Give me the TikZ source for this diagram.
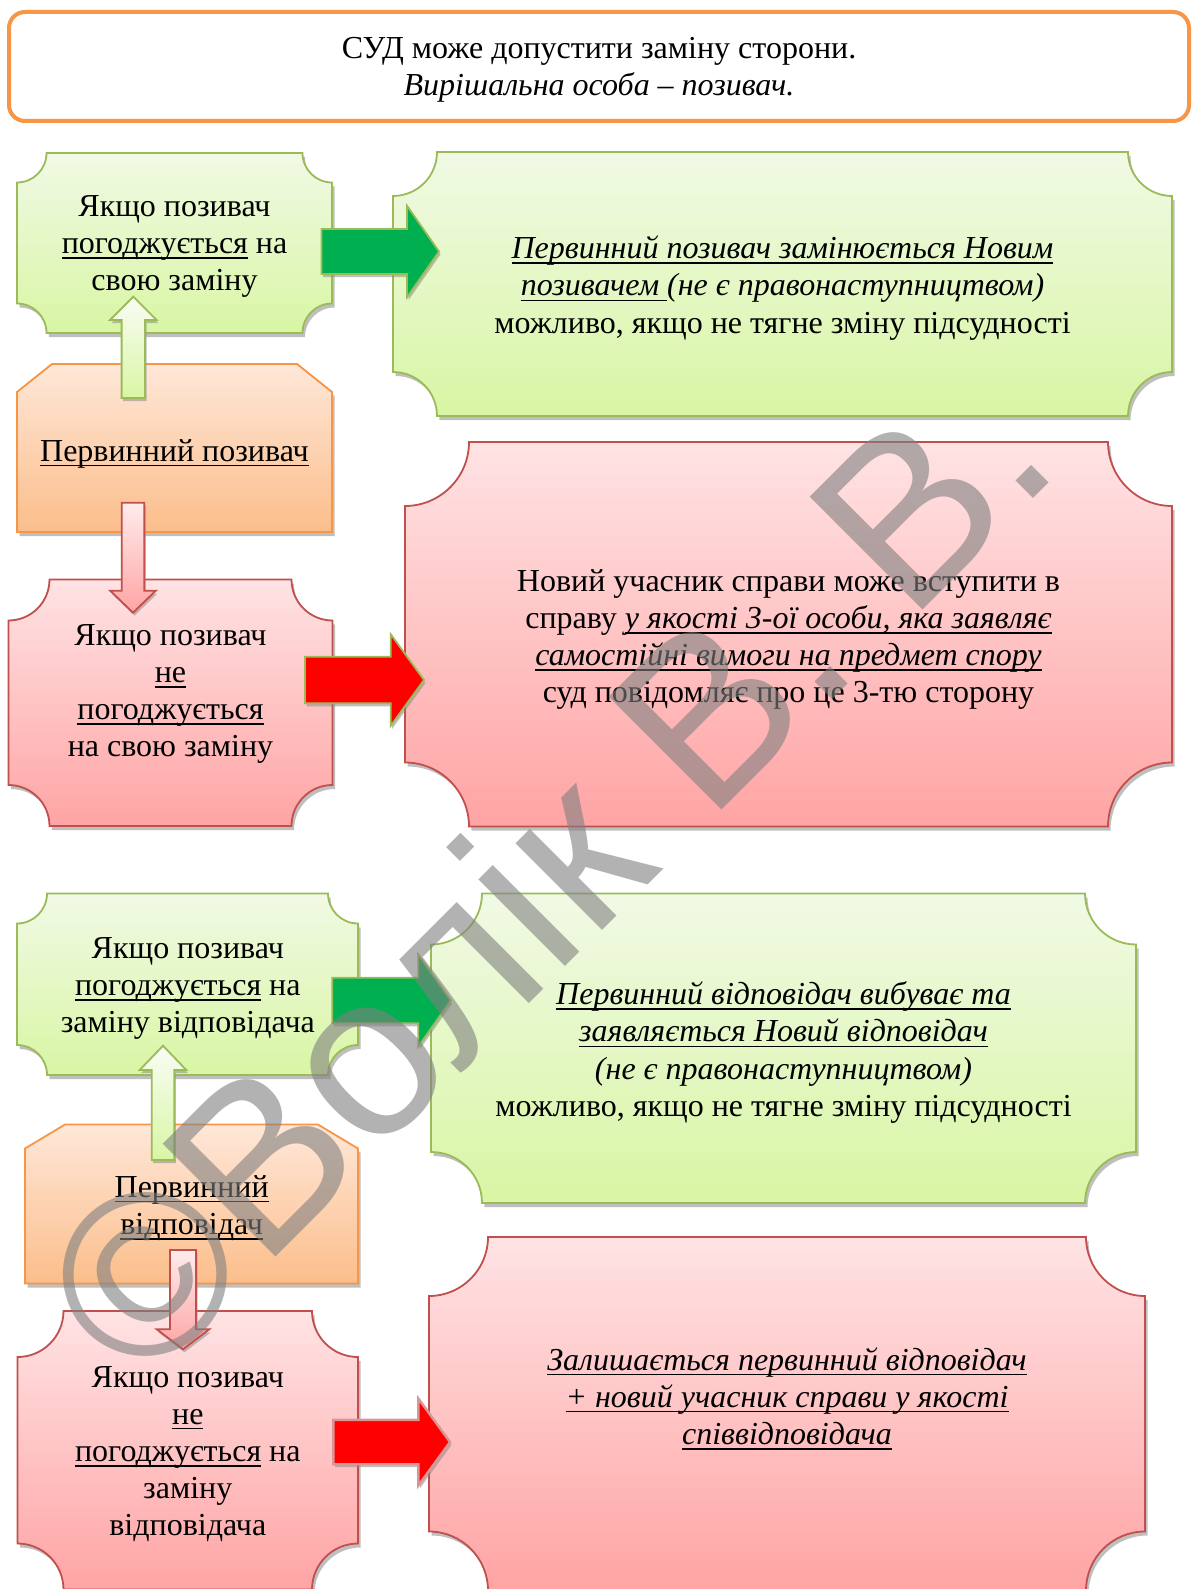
\documentclass[tikz,border=0pt]{standalone}
\usepackage{fontspec}
\setmainfont{Liberation Serif}
\newfontfamily\wmfont{Liberation Sans}

% underline at a fixed depth below the baseline
\newcommand{\undl}[1]{\setbox0\hbox{#1}\rlap{\rule[-2.6pt]{\wd0}{0.75pt}}\box0\relax}

\definecolor{grnedge}{HTML}{9BBB59}
\definecolor{grntop}{HTML}{F1F9E5}
\definecolor{grnbot}{HTML}{D8F6A4}
\definecolor{rededge}{HTML}{C0504D}
\definecolor{redtop}{HTML}{FFE3E4}
\definecolor{redbot}{HTML}{FFA4A4}
\definecolor{orgedge}{HTML}{F79646}
\definecolor{orgtop}{HTML}{FFE7D8}
\definecolor{orgbot}{HTML}{FBBE8B}
\definecolor{arrgreen}{HTML}{00B050}
\definecolor{arrred}{HTML}{FF0000}
\definecolor{pinkedge}{HTML}{D99694}
\definecolor{shadowgray}{HTML}{8C8C8C}
\definecolor{wmgray}{HTML}{808080}

% plaque: rectangle with concave quarter-circle corners
\newcommand{\plaquebox}[6]{%
  \path[boxshadow,shift={(2.5,4)}]
    ({#2},{#3+#6}) arc[start angle=90,end angle=0,radius=#6]
    -- ({#4-#6},{#3}) arc[start angle=180,end angle=90,radius=#6]
    -- ({#4},{#5-#6}) arc[start angle=270,end angle=180,radius=#6]
    -- ({#2+#6},{#5}) arc[start angle=0,end angle=-90,radius=#6] -- cycle;
  \path[#1]
    ({#2},{#3+#6}) arc[start angle=90,end angle=0,radius=#6]
    -- ({#4-#6},{#3}) arc[start angle=180,end angle=90,radius=#6]
    -- ({#4},{#5-#6}) arc[start angle=270,end angle=180,radius=#6]
    -- ({#2+#6},{#5}) arc[start angle=0,end angle=-90,radius=#6] -- cycle;}

% rectangle with both top corners snipped
\newcommand{\snipbox}[7]{%
  \path[boxshadow,shift={(2.5,4)}]
    ({#2},{#3+#7}) -- ({#2+#6},{#3}) -- ({#4-#6},{#3}) -- ({#4},{#3+#7})
    -- ({#4},{#5}) -- ({#2},{#5}) -- cycle;
  \path[#1]
    ({#2},{#3+#7}) -- ({#2+#6},{#3}) -- ({#4-#6},{#3}) -- ({#4},{#3+#7})
    -- ({#4},{#5}) -- ({#2},{#5}) -- cycle;}

% block arrow pointing right: style, centre y, tail x, head base x, tip x, half shaft, half head
\newcommand{\harrow}[7]{%
  \path[boxshadow,shift={(1.5,3)}]
    ({#3},{#2-#6}) -- ({#4},{#2-#6}) -- ({#4},{#2-#7}) -- ({#5},{#2})
    -- ({#4},{#2+#7}) -- ({#4},{#2+#6}) -- ({#3},{#2+#6}) -- cycle;
  \path[#1]
    ({#3},{#2-#6}) -- ({#4},{#2-#6}) -- ({#4},{#2-#7}) -- ({#5},{#2})
    -- ({#4},{#2+#7}) -- ({#4},{#2+#6}) -- ({#3},{#2+#6}) -- cycle;}

% vertical block arrow: style, centre x, tail y, head base y, tip y, half shaft, half head
\newcommand{\varrow}[7]{%
  \path[boxshadow,shift={(1.5,3)}]
    ({#2-#6},{#3}) -- ({#2-#6},{#4}) -- ({#2-#7},{#4}) -- ({#2},{#5})
    -- ({#2+#7},{#4}) -- ({#2+#6},{#4}) -- ({#2+#6},{#3}) -- cycle;
  \path[#1]
    ({#2-#6},{#3}) -- ({#2-#6},{#4}) -- ({#2-#7},{#4}) -- ({#2},{#5})
    -- ({#2+#7},{#4}) -- ({#2+#6},{#4}) -- ({#2+#6},{#3}) -- cycle;}

\begin{document}
\begin{tikzpicture}[x=0.5pt,y=-0.5pt,
  boxshadow/.style={fill=shadowgray,fill opacity=0.55},
  greenbox/.style={draw=grnedge,line width=0.9pt,top color=grntop,bottom color=grnbot},
  redbox/.style={draw=rededge,line width=0.9pt,top color=redtop,bottom color=redbot},
  orangebox/.style={draw=orgedge,line width=0.9pt,top color=orgtop,bottom color=orgbot},
  okarrow/.style={draw=grnedge,line width=0.9pt,fill=arrgreen},
  noarrow/.style={draw=grnedge,line width=0.9pt,fill=arrred},
  noarrowb/.style={draw=pinkedge,line width=1.2pt,fill=arrred},
  uparrow/.style={draw=grnedge,line width=0.9pt,top color=white!60!grntop,bottom color=grnbot},
  downarrow/.style={draw=rededge,line width=0.9pt,top color=redtop!70!red!20,bottom color=redbot},
  txt/.style={align=center,inner sep=0pt,yshift=-1pt,font=\fontsize{16}{18.6}\selectfont},
  watermark/.style={text=wmgray,text opacity=0.6,inner sep=0pt,
    font=\wmfont\fontsize{116}{116}\selectfont}]

\useasboundingbox (0,0) rectangle (1192,1589);
\fill[white] (0,0) rectangle (1192,1589);

% heading frame
\draw[orgedge,line width=2pt,rounded corners=8pt,fill=white] (9,12) rectangle (1189,121);
\node[txt] (title) at (599,67.5)
  {СУД може допустити заміну сторони.\\\textit{Вирішальна особа – позивач.}};

% upper group: plaintiff
\plaquebox{greenbox}{17}{153}{332}{333}{29.5}
\plaquebox{greenbox}{393}{152}{1172}{416}{44}
\snipbox{orangebox}{17}{364}{332}{532}{35}{28}
\plaquebox{redbox}{8.5}{579.5}{332.5}{826}{41}
\plaquebox{redbox}{405}{442}{1172}{826.5}{64}

% lower group: defendant
\plaquebox{greenbox}{17}{893.5}{358}{1075}{30}
\plaquebox{greenbox}{431}{893.5}{1136}{1203}{51}
\snipbox{orangebox}{25}{1124.5}{358}{1283.5}{40}{24}
\plaquebox{redbox}{17.5}{1311}{358}{1589.5}{46}
\plaquebox{redbox}{429}{1237}{1145}{1590.5}{59}

% block arrows
\harrow{okarrow}{251.5}{321.5}{407}{439}{22.5}{45.7}
\harrow{noarrow}{680}{305}{390.7}{424}{23.3}{45.8}
\harrow{okarrow}{1000.5}{332.3}{418.3}{450.7}{22.8}{46}
\harrow{noarrowb}{1442}{333.3}{418.3}{450}{22.2}{43.5}
\varrow{uparrow}{133.3}{398}{320}{296.7}{11.7}{23.3}
\varrow{downarrow}{133}{502.7}{590.7}{612.7}{11.3}{22.8}
\varrow{uparrow}{163}{1160}{1070}{1045.7}{11.3}{23.3}
\varrow{downarrow}{183}{1250}{1329.3}{1349.3}{13}{26.2}

% texts of the upper group
\node[txt] (agree1) at (174.5,244.5)
  {Якщо позивач\\\undl{погоджується} на\\свою заміну};
\node[txt] (first1) at (174.5,451.5) {\undl{Первинний позивач}};
\node[txt] (refuse1) at (170.5,692)
  {Якщо позивач\\\undl{не}\\\undl{погоджується}\\на свою заміну};
\node[txt] (result1) at (782.5,286)
  {\undl{\itshape Первинний позивач замінюється Новим}\\
   \undl{\itshape позивачем\ }\textit{(не є правонаступництвом)}\\
   можливо, якщо не тягне зміну підсудності};
\node[txt] (result2) at (788.5,637.5)
  {Новий учасник справи може вступити в\\
   справу \undl{\itshape у якості 3-ої особи, яка заявляє}\\
   \undl{\itshape самостійні вимоги на предмет спору}\\
   суд повідомляє про це 3-тю сторону};

% texts of the lower group
\node[txt] (agree2) at (187.8,986.5)
  {Якщо позивач\\\undl{погоджується} на\\заміну відповідача};
\node[txt] (first2) at (191.7,1206) {\undl{Первинний}\\\undl{відповідач}};
\node[txt] (refuse2) at (187.8,1452)
  {Якщо позивач\\\undl{не}\\\undl{погоджується} на\\заміну\\відповідача};
\node[txt] (result3) at (783.5,1050.5)
  {\undl{\itshape Первинний відповідач вибуває та}\\
   \undl{\itshape заявляється Новий відповідач}\\
   \textit{(не є правонаступництвом)}\\
   можливо, якщо не тягне зміну підсудності};
\node[txt] (result4) at (787,1396.5)
  {\undl{\itshape Залишається первинний відповідач}\\
   \undl{\itshape + новий учасник справи у якості}\\
   \undl{\itshape співвідповідача}};

% copyright mark across the sheet
\node[watermark,rotate=45] (mark) at (544,871) {©Волік В. В.};
\end{tikzpicture}
\end{document}
